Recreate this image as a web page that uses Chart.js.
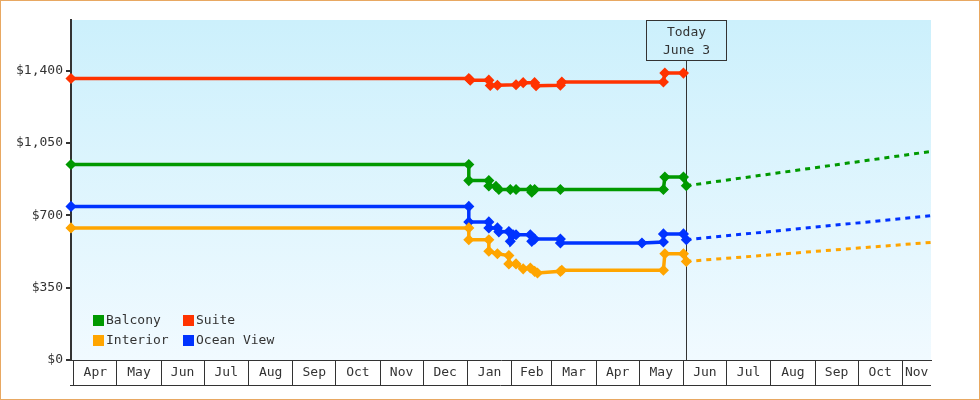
<!DOCTYPE html>
<html>
<head>
<meta charset="utf-8">
<script src="https://cdn.jsdelivr.net/npm/chart.js@4.4.0/dist/chart.umd.min.js"></script>
<style>
  body { margin: 0; background: #fff; }
  canvas { display: block; }
</style>
</head>
<body>
<canvas id="fare-chart" width="980" height="400"></canvas>
<script>
// cabin price history, one pair of arrays per cabin type
const balconyDates = ['2022-03-30', '2023-01-02', '2023-01-02', '2023-01-16', '2023-01-16', '2023-01-21', '2023-01-23',
    '2023-01-31', '2023-02-04', '2023-02-14', '2023-02-15', '2023-02-17', '2023-03-07', '2023-05-18', '2023-05-19',
    '2023-06-01', '2023-06-03'];
const balconyPrices = [946, 946, 868, 868, 842, 840, 825, 825, 825, 825, 812, 825, 825, 825, 885, 885, 843];

const suiteDates = ['2022-03-30', '2023-01-02', '2023-01-03', '2023-01-16', '2023-01-17', '2023-01-22', '2023-02-04',
    '2023-02-09', '2023-02-17', '2023-02-18', '2023-03-07', '2023-03-08', '2023-05-18', '2023-05-19', '2023-06-01'];
const suitePrices = [1362, 1362, 1354, 1354, 1328, 1329, 1332, 1342, 1342, 1327, 1329, 1345, 1345, 1388, 1388];

const interiorDates = ['2022-03-30', '2023-01-02', '2023-01-02', '2023-01-16', '2023-01-16', '2023-01-22', '2023-01-30',
    '2023-01-30', '2023-02-04', '2023-02-09', '2023-02-14', '2023-02-17', '2023-02-19', '2023-03-07', '2023-03-08',
    '2023-05-18', '2023-05-19', '2023-06-01', '2023-06-03'];
const interiorPrices = [639, 639, 582, 582, 526, 514, 505, 465, 465, 441, 445, 429, 421, 429, 434, 434, 514, 514, 477];

const oceanDates = ['2022-03-30', '2023-01-02', '2023-01-02', '2023-01-16', '2023-01-16', '2023-01-22', '2023-01-23',
    '2023-01-30', '2023-01-31', '2023-02-02', '2023-02-04', '2023-02-14', '2023-02-15', '2023-02-17', '2023-03-07',
    '2023-03-07', '2023-05-03', '2023-05-18', '2023-05-18', '2023-06-01', '2023-06-03'];
const oceanPrices = [743, 743, 668, 668, 639, 639, 620, 622, 574, 606, 606, 606, 574, 585, 585, 566, 566, 571, 610, 610, 582];

// projected prices after today
const forecastDates = ['2023-06-03', '2023-11-21'];
const balconyForecast = [843, 1009];
const interiorForecast = [477, 569];
const oceanForecast = [582, 698];

const monthStarts = ['2022-04-01', '2022-05-01', '2022-06-01', '2022-07-01', '2022-08-01', '2022-09-01', '2022-10-01',
    '2022-11-01', '2022-12-01', '2023-01-01', '2023-02-01', '2023-03-01', '2023-04-01', '2023-05-01', '2023-06-01',
    '2023-07-01', '2023-08-01', '2023-09-01', '2023-10-01', '2023-11-01'];
const monthLabels = ['Apr', 'May', 'Jun', 'Jul', 'Aug', 'Sep', 'Oct', 'Nov', 'Dec', 'Jan', 'Feb', 'Mar', 'Apr', 'May',
    'Jun', 'Jul', 'Aug', 'Sep', 'Oct', 'Nov'];
const yTicks = [0, 350, 700, 1050, 1400];

const axisStart = '2022-03-30';
const axisEnd = '2023-11-21';
const todayDate = '2023-06-03';
const todayText = ['Today', 'June 3'];

const FONT = '13px "DejaVu Sans Mono", monospace';
const INK = '#333';

function toDay(s) {
    return Date.parse(s + 'T00:00:00Z') / 86400000;
}

function points(dates, prices) {
    return dates.map((d, i) => ({ x: toDay(d), y: prices[i] }));
}

function priceLine(label, color, dates, prices) {
    return {
        label: label,
        data: points(dates, prices),
        borderColor: color,
        backgroundColor: color,
        borderWidth: 3.5,
        pointStyle: 'rectRot',
        pointRadius: 4.5,
        pointBorderWidth: 1.5,
        clip: false,
    };
}

function forecastLine(label, color, prices) {
    return {
        label: label,
        forecast: true,
        data: points(forecastDates, prices),
        borderColor: color,
        borderWidth: 3,
        borderDash: [5, 5],
        pointRadius: 0,
        clip: false,
    };
}

const datasets = [
    priceLine('Balcony', '#009900', balconyDates, balconyPrices),
    priceLine('Suite', '#ff3300', suiteDates, suitePrices),
    priceLine('Interior', '#ffa500', interiorDates, interiorPrices),
    priceLine('Ocean View', '#0033ff', oceanDates, oceanPrices),
    forecastLine('Balcony forecast', '#009900', balconyForecast),
    forecastLine('Interior forecast', '#ffa500', interiorForecast),
    forecastLine('Ocean View forecast', '#0033ff', oceanForecast),
];

const decorations = {
    id: 'decorations',
    beforeDraw(chart) {
        const { ctx, chartArea: a, width, height } = chart;
        ctx.save();
        ctx.fillStyle = '#fff';
        ctx.fillRect(0, 0, width, height);
        const g = ctx.createLinearGradient(0, a.top, 0, a.bottom);
        g.addColorStop(0, '#ccf0fc');
        g.addColorStop(1, '#f1faff');
        ctx.fillStyle = g;
        ctx.fillRect(a.left, a.top, a.right - a.left, a.bottom - a.top);
        ctx.restore();
    },
    beforeDatasetsDraw(chart) {
        // today marker
        const { ctx, chartArea: a } = chart;
        const x = Math.round(chart.scales.x.getPixelForValue(toDay(todayDate))) + 0.5;
        const boxTop = a.top + 0.5;
        const boxH = 40;
        ctx.save();
        ctx.strokeStyle = INK;
        ctx.lineWidth = 1;
        ctx.beginPath();
        ctx.moveTo(x, boxTop + boxH);
        ctx.lineTo(x, a.bottom);
        ctx.stroke();
        ctx.strokeRect(x - 40, boxTop, 80, boxH);
        ctx.fillStyle = INK;
        ctx.font = FONT;
        ctx.textAlign = 'center';
        ctx.textBaseline = 'middle';
        ctx.fillText(todayText[0], x, boxTop + 12);
        ctx.fillText(todayText[1], x, boxTop + 30);
        ctx.restore();
    },
    afterDraw(chart) {
        const { ctx, chartArea: a, width, height } = chart;
        const xs = chart.scales.x;
        ctx.save();

        // month names between the month separators
        ctx.fillStyle = INK;
        ctx.font = FONT;
        ctx.textAlign = 'center';
        ctx.textBaseline = 'middle';
        const end = toDay(axisEnd);
        monthStarts.forEach((m, i) => {
            const from = xs.getPixelForValue(toDay(m));
            const next = i + 1 < monthStarts.length ? toDay(monthStarts[i + 1]) : end;
            const to = xs.getPixelForValue(Math.min(next, end));
            ctx.fillText(monthLabels[i], (from + to) / 2, a.bottom + 13);
        });
        ctx.strokeStyle = INK;
        ctx.lineWidth = 1;
        ctx.beginPath();
        ctx.moveTo(a.left - 1, a.bottom + 25.5);
        ctx.lineTo(a.right, a.bottom + 25.5);
        ctx.stroke();

        // legend inside the plot, two columns
        ctx.textAlign = 'left';
        chart.data.datasets.filter(d => !d.forecast).forEach((d, i) => {
            const lx = 93 + (i % 2) * 90;
            const ly = 315 + Math.floor(i / 2) * 20;
            ctx.fillStyle = d.borderColor;
            ctx.fillRect(lx, ly, 11, 11);
            ctx.fillStyle = INK;
            ctx.fillText(d.label, lx + 13, ly + 6);
        });

        // outer frame
        ctx.strokeStyle = '#e8a862';
        ctx.strokeRect(0.5, 0.5, width - 1, height - 1);
        ctx.restore();
    },
};

new Chart(document.getElementById('fare-chart'), {
    type: 'line',
    data: { datasets: datasets },
    options: {
        responsive: false,
        animation: false,
        layout: { padding: { left: 0, top: 20, right: 49, bottom: 0 } },
        plugins: {
            legend: { display: false },
            tooltip: { enabled: false },
        },
        elements: { line: { tension: 0 } },
        scales: {
            x: {
                type: 'linear',
                min: toDay(axisStart),
                max: toDay(axisEnd),
                afterBuildTicks: s => { s.ticks = monthStarts.map(m => ({ value: toDay(m) })); },
                afterFit: s => { s.height = 40; },
                grid: { drawOnChartArea: false, drawTicks: true, tickLength: 25, color: INK, lineWidth: 1 },
                border: { display: true, color: INK, width: 1 },
                ticks: { display: false },
            },
            y: {
                min: 0,
                max: 1645,
                afterBuildTicks: s => { s.ticks = yTicks.map(v => ({ value: v })); },
                afterFit: s => { s.width = 71; },
                grid: { drawOnChartArea: false, drawTicks: true, tickLength: 5, color: INK, lineWidth: 2 },
                border: { display: true, color: INK, width: 2 },
                ticks: {
                    color: INK,
                    padding: 3,
                    font: { family: '"DejaVu Sans Mono", monospace', size: 13 },
                    callback: v => '$' + v.toLocaleString('en-US'),
                },
            },
        },
    },
    plugins: [decorations],
});
</script>
</body>
</html>
